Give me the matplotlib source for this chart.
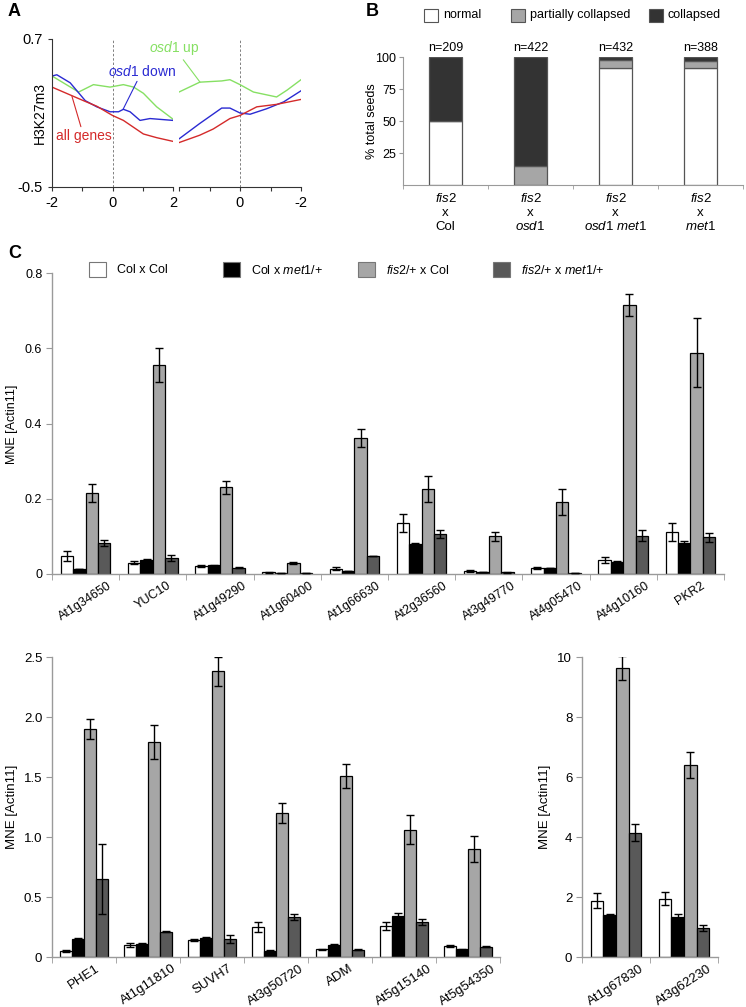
import numpy as np
import matplotlib
matplotlib.use("Agg")
import matplotlib.pyplot as plt
from matplotlib.patches import Rectangle

plt.rcParams['font.family'] = ['Liberation Sans', 'DejaVu Sans']
plt.rcParams['mathtext.fontset'] = 'custom'
plt.rcParams['mathtext.rm'] = 'Liberation Sans'
plt.rcParams['mathtext.it'] = 'Liberation Sans:italic'

W, H = 746, 1007

# ---- panel A: H3K27m3 profiles (left = around TSS, right = around TES)
up_left_x = [-2, -1.12, -0.63, -0.08, 0.36, 0.7, 1.02, 1.46, 2.0]
up_left_y = [0.40, 0.27, 0.33, 0.31, 0.33, 0.31, 0.26, 0.15, 0.05]
down_left_x = [-2, -1.84, -1.4, -0.9, -0.52, -0.08, 0.2, 0.36, 0.58, 0.91, 1.24, 2.0]
down_left_y = [0.40, 0.41, 0.345, 0.20, 0.15, 0.11, 0.11, 0.13, 0.11, 0.04, 0.055, 0.04]
all_left_x = [-2, -0.96, -0.52, 0, 0.36, 1.02, 1.46, 2.0]
all_left_y = [0.31, 0.20, 0.155, 0.08, 0.04, -0.07, -0.10, -0.13]

up_right_x = [2, 1.32, 0.6, 0.33, 0, -0.44, -1.2, -1.54, -2]
up_right_y = [0.27, 0.35, 0.36, 0.37, 0.33, 0.27, 0.23, 0.285, 0.37]
down_right_x = [2, 1.32, 0.6, 0.33, 0, -0.33, -0.88, -1.43, -2]
down_right_y = [-0.11, 0.015, 0.14, 0.14, 0.10, 0.09, 0.135, 0.19, 0.28]
all_right_x = [2, 1.32, 0.88, 0.33, 0, -0.55, -1.2, -2]
all_right_y = [-0.14, -0.08, -0.03, 0.055, 0.08, 0.15, 0.17, 0.21]

# ---- panel B: seed phenotypes
crosses_mid = ['x', 'x', 'x', 'x']
crosses_bottom = ['Col', r'$\mathit{osd1}$', r'$\mathit{osd1\ met1}$', r'$\mathit{met1}$']
normal = [50, 0, 91.4, 91.4]
partial = [0, 15, 6.5, 5.2]
collapsed = [50, 85, 2.1, 3.4]
n_seeds = [209, 422, 432, 388]

# ---- panel C: qRT-PCR
series_names = ['Col x Col', r'Col x $\mathit{met1}$/+',
                r'$\mathit{fis2}$/+ x Col', r'$\mathit{fis2}$/+ x $\mathit{met1}$/+']
series_colors = ['white', 'black', '#a6a6a6', '#595959']

top_genes = ['At1g34650', 'YUC10', 'At1g49290', 'At1g60400', 'At1g66630',
             'At2g36560', 'At3g49770', 'At4g05470', 'At4g10160', 'PKR2']
top_col_col = [0.048, 0.030, 0.022, 0.004, 0.014, 0.135, 0.008, 0.015, 0.037, 0.112]
top_col_col_err = [0.013, 0.004, 0.003, 0.001, 0.004, 0.024, 0.002, 0.003, 0.007, 0.024]
top_col_met1 = [0.013, 0.038, 0.023, 0.002, 0.008, 0.080, 0.005, 0.016, 0.032, 0.083]
top_col_met1_err = [0, 0.002, 0.002, 0, 0.001, 0.002, 0, 0.001, 0.002, 0.006]
top_fis2_col = [0.215, 0.555, 0.230, 0.030, 0.362, 0.226, 0.100, 0.192, 0.715, 0.588]
top_fis2_col_err = [0.023, 0.045, 0.018, 0.003, 0.024, 0.035, 0.012, 0.035, 0.030, 0.092]
top_fis2_met1 = [0.082, 0.042, 0.017, 0.003, 0.048, 0.106, 0.004, 0.002, 0.102, 0.098]
top_fis2_met1_err = [0.008, 0.008, 0.002, 0, 0.001, 0.010, 0.001, 0, 0.015, 0.012]

mid_genes = ['PHE1', 'At1g11810', 'SUVH7', 'At3g50720', 'ADM', 'At5g15140', 'At5g54350']
mid_col_col = [0.05, 0.10, 0.14, 0.25, 0.065, 0.26, 0.09]
mid_col_col_err = [0.01, 0.02, 0.01, 0.04, 0.005, 0.035, 0.01]
mid_col_met1 = [0.15, 0.11, 0.155, 0.05, 0.10, 0.34, 0.065]
mid_col_met1_err = [0.005, 0.005, 0.01, 0.005, 0.005, 0.025, 0.005]
mid_fis2_col = [1.90, 1.79, 2.38, 1.20, 1.51, 1.06, 0.90]
mid_fis2_col_err = [0.08, 0.14, 0.12, 0.085, 0.10, 0.12, 0.11]
mid_fis2_met1 = [0.65, 0.21, 0.15, 0.33, 0.06, 0.295, 0.085]
mid_fis2_met1_err = [0.29, 0.005, 0.03, 0.025, 0.005, 0.025, 0.005]

low_genes = ['At1g67830', 'At3g62230']
low_col_col = [1.88, 1.95]
low_col_col_err = [0.25, 0.22]
low_col_met1 = [1.40, 1.35]
low_col_met1_err = [0.02, 0.08]
low_fis2_col = [9.65, 6.40]
low_fis2_col_err = [0.40, 0.42]
low_fis2_met1 = [4.15, 0.98]
low_fis2_met1_err = [0.28, 0.10]

GREEN, BLUE, RED = '#86e063', '#2a2ad2', '#d42a2a'
AXGRAY = '#9a9a9a'


def box(x0, y0, x1, y1):
    # pixel box (origin top-left) -> figure fraction rect
    return [x0 / W, 1 - y1 / H, (x1 - x0) / W, (y1 - y0) / H]


def px(x, y):
    return x / W, 1 - y / H


fig = plt.figure(figsize=(W / 100, H / 100), dpi=100)

# ================= A =================
axL = fig.add_axes(box(52, 39, 173, 187))
axR = fig.add_axes(box(179, 39, 301, 187))
for ax in (axL, axR):
    ax.set_ylim(-0.5, 0.7)
    ax.axvline(0, color='#808080', ls=(0, (2.5, 2)), lw=0.7)
    for s in ('top', 'right'):
        ax.spines[s].set_visible(False)
    ax.spines['bottom'].set_color('#333333')
    ax.spines['left'].set_color('#333333')
    ax.tick_params(length=3, width=0.8, color='#333333', labelsize=10.5)
axL.set_xlim(-2, 2)
axR.set_xlim(2, -2)
axL.plot(up_left_x, up_left_y, color=GREEN, lw=1)
axL.plot(down_left_x, down_left_y, color=BLUE, lw=1)
axL.plot(all_left_x, all_left_y, color=RED, lw=1)
axR.plot(up_right_x, up_right_y, color=GREEN, lw=1)
axR.plot(down_right_x, down_right_y, color=BLUE, lw=1)
axR.plot(all_right_x, all_right_y, color=RED, lw=1)
axL.set_yticks([-0.5, 0.7])
axL.set_yticklabels(['-0.5', '0.7'])
axL.set_xticks([-2, -1, 0, 1, 2])
axL.set_xticklabels(['-2', '', '0', '', '2'])
axR.set_xticks([2, 1, 0, -1, -2])
axR.set_xticklabels(['', '', '0', '', '-2'])
axR.spines['left'].set_visible(False)
axR.set_yticks([])
fig.text(*px(40, 113), 'H3K27m3', rotation=90, ha='center', va='center', fontsize=10)

arrow = dict(arrowstyle='-', lw=0.8, shrinkA=0, shrinkB=0)
axR.annotate(r'$\mathit{osd1}$ up', xy=(1.31, 0.35), xytext=(2.15, 0.627),
             color=GREEN, fontsize=10, ha='center', va='center',
             arrowprops=dict(arrow, color=GREEN), annotation_clip=False)
axL.annotate(r'$\mathit{osd1}$ down', xy=(0.35, 0.13), xytext=(0.98, 0.44),
             color=BLUE, fontsize=10, ha='center', va='center',
             arrowprops=dict(arrow, color=BLUE), annotation_clip=False)
axL.annotate('all genes', xy=(-1.34, 0.235), xytext=(-0.95, -0.09),
             color=RED, fontsize=10, ha='center', va='center',
             arrowprops=dict(arrow, color=RED), annotation_clip=False)

# ================= B =================
axB = fig.add_axes(box(403, 57, 743, 185))
xb = np.arange(len(n_seeds))
bw = 0.39
axB.bar(xb, normal, bw, color='white', edgecolor='#555555', lw=0.9)
axB.bar(xb, partial, bw, bottom=normal, color='#a6a6a6', edgecolor='#555555', lw=0.9)
axB.bar(xb, collapsed, bw, bottom=np.add(normal, partial), color='#333333',
        edgecolor='#555555', lw=0.9)
axB.set_xlim(-0.5, len(n_seeds) - 0.5)
axB.set_ylim(0, 100)
axB.set_yticks([25, 50, 75, 100])
axB.set_xticks(xb)
axB.set_xticklabels([])
axB.set_xticks(np.arange(-0.5, len(n_seeds)), minor=True)
axB.tick_params(axis='x', which='major', length=0)
axB.tick_params(axis='x', which='minor', length=3, color=AXGRAY)
axB.tick_params(axis='y', length=3, color=AXGRAY, labelsize=9, pad=2)
for s in ('top', 'right'):
    axB.spines[s].set_visible(False)
for s in ('left', 'bottom'):
    axB.spines[s].set_color(AXGRAY)
for i, n in enumerate(n_seeds):
    axB.annotate(f'n={n}', xy=(i, 100), xytext=(0, 3), textcoords='offset pixels',
                 ha='center', va='bottom', fontsize=9)
    for off, lab in ((-14, r'$\mathit{fis2}$'), (-28, crosses_mid[i]), (-42, crosses_bottom[i])):
        axB.annotate(lab, xy=(i, 0), xytext=(0, off), textcoords='offset pixels',
                     ha='center', va='center', fontsize=9.5)
fig.text(*px(372, 121), '% total seeds', rotation=90, ha='center', va='center', fontsize=9)

legB = [('normal', 'white', 424, 443), ('partially collapsed', '#a6a6a6', 511, 530),
        ('collapsed', '#333333', 649, 668)]
for lab, col, sx, tx in legB:
    fig.add_artist(Rectangle(px(sx, 22), 14 / W, 13 / H, transform=fig.transFigure,
                             facecolor=col, edgecolor='#555555', lw=0.8))
    fig.text(*px(tx, 15), lab, ha='left', va='center', fontsize=9)

# ================= C =================
def qpcr(rect, genes, vals, errs, ymax, yticks, yticklabels, fs):
    ax = fig.add_axes(rect)
    x = np.arange(len(genes))
    w = 0.185
    for k in range(4):
        pos = x + (k - 1.5) * w
        ax.bar(pos, vals[k], w, color=series_colors[k], edgecolor='black', lw=0.9, zorder=2)
        ax.errorbar(pos, vals[k], yerr=errs[k], fmt='none', ecolor='black',
                    elinewidth=1.0, capsize=3.2, capthick=1.0, zorder=3)
    ax.set_xlim(-0.5, len(genes) - 0.5)
    ax.set_ylim(0, ymax)
    ax.set_yticks(yticks)
    ax.set_yticklabels(yticklabels)
    ax.set_xticks(x)
    ax.set_xticklabels(genes, rotation=33, ha='center', va='top', fontsize=fs)
    ax.set_xticks(np.arange(-0.5, len(genes)), minor=True)
    ax.tick_params(axis='x', which='major', length=0, pad=4)
    ax.tick_params(axis='x', which='minor', length=4, color=AXGRAY)
    ax.tick_params(axis='y', length=4, color=AXGRAY, labelsize=fs, pad=3)
    for s in ('top', 'right'):
        ax.spines[s].set_visible(False)
    for s in ('left', 'bottom'):
        ax.spines[s].set_color(AXGRAY)
        ax.spines[s].set_linewidth(1.0)
    return ax


qpcr(box(52, 273, 724, 574), top_genes,
     [top_col_col, top_col_met1, top_fis2_col, top_fis2_met1],
     [top_col_col_err, top_col_met1_err, top_fis2_col_err, top_fis2_met1_err],
     0.8, [0, 0.2, 0.4, 0.6, 0.8], ['0', '0.2', '0.4', '0.6', '0.8'], 9)
qpcr(box(52, 657, 500, 957), mid_genes,
     [mid_col_col, mid_col_met1, mid_fis2_col, mid_fis2_met1],
     [mid_col_col_err, mid_col_met1_err, mid_fis2_col_err, mid_fis2_met1_err],
     2.5, [0, 0.5, 1.0, 1.5, 2.0, 2.5], ['0', '0.5', '1.0', '1.5', '2.0', '2.5'], 9.5)
qpcr(box(582, 657, 718, 957), low_genes,
     [low_col_col, low_col_met1, low_fis2_col, low_fis2_met1],
     [low_col_col_err, low_col_met1_err, low_fis2_col_err, low_fis2_met1_err],
     10, [0, 2, 4, 6, 8, 10], ['0', '2', '4', '6', '8', '10'], 9.5)

fig.text(*px(12, 424), 'MNE [Actin11]', rotation=90, ha='center', va='center', fontsize=9)
fig.text(*px(12, 807), 'MNE [Actin11]', rotation=90, ha='center', va='center', fontsize=9.5)
fig.text(*px(545, 807), 'MNE [Actin11]', rotation=90, ha='center', va='center', fontsize=9.5)

legC_sq = [89, 223, 358, 493]
for name, col, sx in zip(series_names, series_colors, legC_sq):
    fig.add_artist(Rectangle(px(sx, 277), 17 / W, 15 / H, transform=fig.transFigure,
                             facecolor=col, edgecolor='#777777', lw=0.8))
    fig.text(*px(sx + 28, 270), name, ha='left', va='center', fontsize=9)

# panel letters
for lab, x, y in (('A', 8, 12), ('B', 366, 12), ('C', 8, 253)):
    fig.text(*px(x, y), lab, fontsize=13, fontweight='bold', ha='left', va='center')

fig.savefig('out.png', dpi=100)
